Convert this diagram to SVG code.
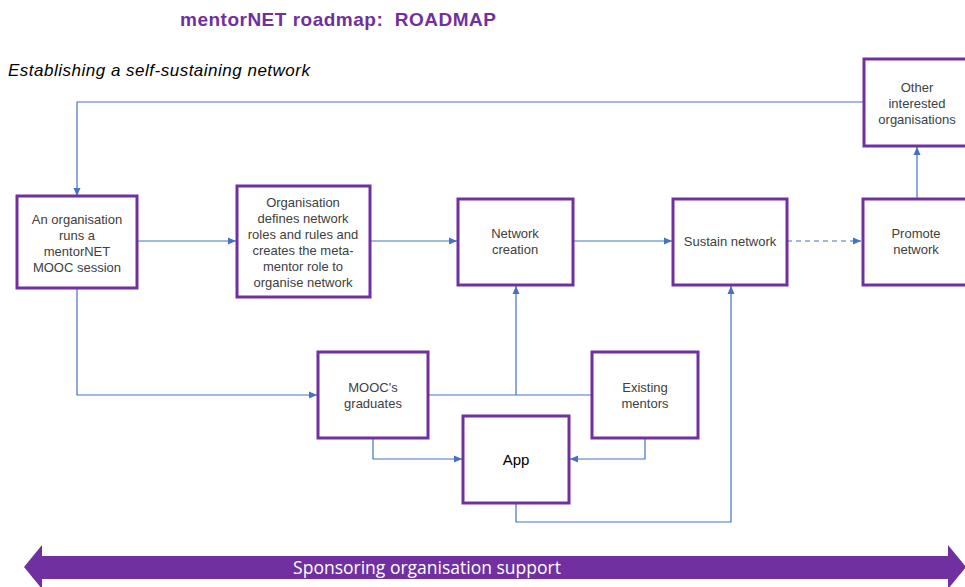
<svg xmlns="http://www.w3.org/2000/svg" width="965" height="587" viewBox="0 0 965 587">
<defs>
<style>
.box{fill:#fff;stroke:#7030A0;stroke-width:3}
.t{font-family:"Liberation Sans",Arial,sans-serif;font-size:13px;fill:#404040;text-anchor:middle}
.c{fill:none;stroke:#4472C4;stroke-width:1.2}
</style>
<marker id="ah" viewBox="0 0 8 8" refX="8" refY="4" markerWidth="8" markerHeight="8" markerUnits="userSpaceOnUse" orient="auto">
<path d="M0,0.5 L8,4 L0,7.5 Z" fill="#4472C4"/>
</marker>
</defs>
<rect width="965" height="587" fill="#fff"/>
<text x="180" y="26" font-family="Liberation Sans,Arial,sans-serif" font-size="19" font-weight="bold" letter-spacing="0.5" fill="#7030A0" xml:space="preserve">mentorNET roadmap:  ROADMAP</text>
<text x="8" y="76" font-family="Liberation Sans,Arial,sans-serif" font-size="17" font-style="italic" letter-spacing="0.5" fill="#000">Establishing a self-sustaining network</text>

<g id="connectors">
<path class="c" d="M864,102 H77 V196" marker-end="url(#ah)"/>
<path class="c" d="M137,241 H236" marker-end="url(#ah)"/>
<path class="c" d="M370,241 H457" marker-end="url(#ah)"/>
<path class="c" d="M573,241 H672" marker-end="url(#ah)"/>
<path class="c" d="M787,241 H861" stroke-dasharray="5,4" marker-end="url(#ah)"/>
<path class="c" d="M917,199 V147" marker-end="url(#ah)"/>
<path class="c" d="M77,288 V395 H317" marker-end="url(#ah)"/>
<path class="c" d="M428,395 H592"/>
<path class="c" d="M516,395 V286" marker-end="url(#ah)"/>
<path class="c" d="M373,438 V459 H462" marker-end="url(#ah)"/>
<path class="c" d="M645,438 V459 H570" marker-end="url(#ah)"/>
<path class="c" d="M516,503 V522 H731 V286" marker-end="url(#ah)"/>
</g>

<g id="n_org"><rect class="box" x="17" y="196" width="120" height="92"/>
<text class="t"><tspan x="77" y="224">An organisation</tspan><tspan x="77" y="240">runs a</tspan><tspan x="77" y="256">mentorNET</tspan><tspan x="77" y="272">MOOC session</tspan></text></g>

<g id="n_defines"><rect class="box" x="237" y="186" width="133" height="111"/>
<text class="t"><tspan x="303" y="207">Organisation</tspan><tspan x="303" y="223">defines network</tspan><tspan x="303" y="239">roles and rules and</tspan><tspan x="303" y="255">creates the meta-</tspan><tspan x="303" y="271">mentor role to</tspan><tspan x="303" y="287">organise network</tspan></text></g>

<g id="n_creation"><rect class="box" x="458" y="199" width="115" height="86"/>
<text class="t"><tspan x="515" y="238">Network</tspan><tspan x="515" y="254">creation</tspan></text></g>

<g id="n_sustain"><rect class="box" x="673" y="199" width="114" height="86"/>
<text class="t" x="730" y="246">Sustain network</text></g>

<g id="n_promote"><rect class="box" x="863" y="199" width="104" height="86"/>
<text class="t"><tspan x="916" y="238">Promote</tspan><tspan x="916" y="254">network</tspan></text></g>

<g id="n_other"><rect class="box" x="864" y="59" width="103" height="87"/>
<text class="t"><tspan x="917" y="92">Other</tspan><tspan x="917" y="108">interested</tspan><tspan x="917" y="124">organisations</tspan></text></g>

<g id="n_mooc"><rect class="box" x="318" y="352" width="110" height="86"/>
<text class="t"><tspan x="373" y="392">MOOC's</tspan><tspan x="373" y="408">graduates</tspan></text></g>

<g id="n_existing"><rect class="box" x="592" y="352" width="106" height="86"/>
<text class="t"><tspan x="645" y="392">Existing</tspan><tspan x="645" y="408">mentors</tspan></text></g>

<g id="n_app"><rect class="box" x="463" y="416" width="106" height="87"/>
<text class="t" x="516" y="465" style="fill:#000;font-size:15px">App</text></g>

<g id="sponsor">
<path d="M24,567 L42,545 V556 H948 V545 L966,567 L948,589 V579 H42 V589 Z" fill="#7030A0"/>
<text x="427" y="574" font-family="Open Sans,Liberation Sans,sans-serif" font-size="17.5" fill="#fff" text-anchor="middle">Sponsoring organisation support</text>
</g>
</svg>
